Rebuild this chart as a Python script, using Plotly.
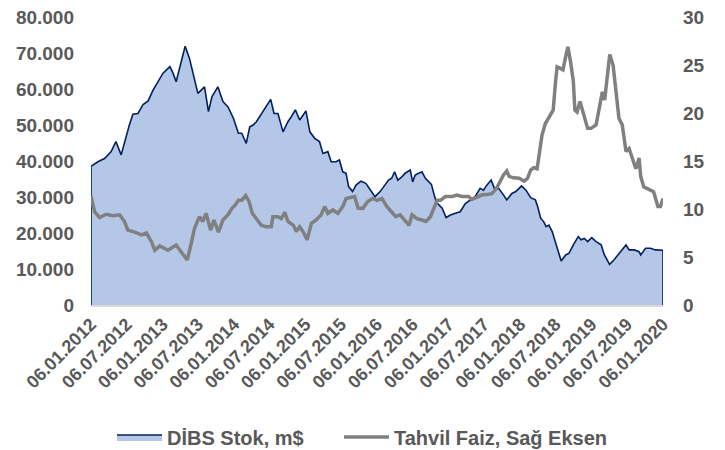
import plotly.graph_objects as go

# ---- data ----
dibs_dates = [
    "2012-01-06", "2012-02-10", "2012-03-15", "2012-04-18", "2012-05-12", "2012-06-08", "2012-06-25",
    "2012-07-20", "2012-08-07", "2012-09-02", "2012-09-28", "2012-10-24", "2012-11-18", "2012-12-14",
    "2013-01-08", "2013-02-12", "2013-02-28", "2013-03-16", "2013-04-03", "2013-05-01", "2013-05-23",
    "2013-06-18", "2013-07-05", "2013-08-08", "2013-08-28", "2013-09-15", "2013-10-15", "2013-11-10",
    "2013-12-06", "2014-01-03", "2014-01-28", "2014-02-14", "2014-03-09", "2014-03-27", "2014-04-13",
    "2014-04-30", "2014-05-17", "2014-06-11", "2014-06-28", "2014-07-12", "2014-07-29", "2014-08-18",
    "2014-09-13", "2014-10-08", "2014-10-25", "2014-11-15", "2014-12-07", "2014-12-24", "2015-01-08",
    "2015-01-28", "2015-02-22", "2015-03-18", "2015-04-05", "2015-04-30", "2015-05-17", "2015-06-11",
    "2015-06-28", "2015-07-15", "2015-08-01", "2015-08-14", "2015-09-03", "2015-09-21", "2015-10-16",
    "2015-11-10", "2015-11-27", "2015-12-17", "2015-12-27", "2016-01-22", "2016-02-17", "2016-03-05",
    "2016-03-21", "2016-04-05", "2016-04-21", "2016-05-12", "2016-05-29", "2016-06-12", "2016-06-24",
    "2016-07-06", "2016-07-19", "2016-08-06", "2016-08-23", "2016-09-09", "2016-09-27", "2016-10-10",
    "2016-10-22", "2016-11-03", "2016-11-17", "2016-12-04", "2016-12-24", "2017-01-15", "2017-02-09",
    "2017-03-06", "2017-04-01", "2017-04-26", "2017-05-21", "2017-06-16", "2017-07-03", "2017-07-20",
    "2017-08-11", "2017-08-28", "2017-09-18", "2017-10-13", "2017-10-30", "2017-11-25", "2017-12-15",
    "2018-01-01", "2018-01-13", "2018-02-05", "2018-03-01", "2018-03-25", "2018-04-06", "2018-04-21",
    "2018-05-07", "2018-05-19", "2018-06-02", "2018-06-19", "2018-07-06", "2018-07-23", "2018-08-04",
    "2018-08-27", "2018-09-13", "2018-10-05", "2018-10-30", "2018-11-13", "2018-11-30", "2018-12-17",
    "2019-01-07", "2019-01-29", "2019-02-24", "2019-03-11", "2019-04-08", "2019-04-30", "2019-05-26",
    "2019-07-01", "2019-07-17", "2019-08-12", "2019-09-06", "2019-09-14", "2019-10-09", "2019-11-03",
    "2019-11-28", "2019-12-30", "2020-01-06",
]
dibs_values = [
    38500, 39800, 40700, 42600, 45400, 41700, 45400,
    50000, 53000, 53200, 55700, 56700, 59700, 62000,
    64400, 66200, 64400, 62000, 65700, 71900, 68500,
    63000, 58800, 60600, 53700, 57900, 60600, 56500,
    55000, 51800, 47700, 47700, 44900, 49500, 50000,
    50900, 52300, 54200, 55600, 57100, 53200, 53200,
    48100, 50900, 52300, 54200, 51400, 52800, 53900,
    48100, 46300, 45400, 42100, 42600, 39800, 39800,
    40300, 37000, 36600, 32900, 31500, 33300, 34400,
    33800, 32400, 30600, 30100, 31500, 33300, 34700,
    35200, 37000, 34700, 35600, 36600, 37000, 37500,
    34200, 36100, 36600, 37000, 35200, 34200, 33500,
    31000, 28700, 27800, 26900, 24300, 25000, 25500,
    25900, 28200, 29200, 30100, 32400, 31900, 33300,
    34700, 32400, 32400, 30600, 29200, 31000, 31500,
    32400, 33100, 31900, 29800, 29200, 27300, 24100,
    23100, 21750, 22200, 20400, 17600, 14400, 12200,
    13900, 14400, 16700, 19000, 18100, 18500, 17600,
    18700, 17600, 16700, 14100, 11300, 12500, 14400,
    16700, 15300, 15300, 14800, 13900, 15750, 15750,
    15300, 15200, 15200,
]

faiz_dates = [
    "2012-01-06", "2012-01-25", "2012-02-19", "2012-03-23", "2012-04-27", "2012-05-31", "2012-06-25",
    "2012-07-12", "2012-08-16", "2012-09-20", "2012-10-15", "2012-11-10", "2012-11-27", "2012-12-22",
    "2013-02-02", "2013-03-16", "2013-04-10", "2013-05-12", "2013-05-30", "2013-06-18", "2013-07-13",
    "2013-07-30", "2013-08-16", "2013-09-08", "2013-09-25", "2013-10-18", "2013-11-10", "2013-12-06",
    "2013-12-26", "2014-01-11", "2014-01-28", "2014-02-14", "2014-03-06", "2014-03-23", "2014-04-09",
    "2014-04-30", "2014-05-25", "2014-06-19", "2014-07-15", "2014-07-23", "2014-08-18", "2014-09-04",
    "2014-09-22", "2014-10-08", "2014-11-05", "2014-11-20", "2014-12-07", "2014-12-24", "2015-01-14",
    "2015-02-05", "2015-03-01", "2015-03-27", "2015-04-14", "2015-04-30", "2015-05-26", "2015-06-20",
    "2015-07-15", "2015-08-01", "2015-08-27", "2015-09-14", "2015-10-01", "2015-10-26", "2015-11-21",
    "2015-12-15", "2016-01-06", "2016-01-31", "2016-02-26", "2016-03-21", "2016-04-11", "2016-05-03",
    "2016-05-29", "2016-06-18", "2016-07-03", "2016-07-28", "2016-08-23", "2016-09-12", "2016-10-05",
    "2016-10-22", "2016-11-08", "2016-11-25", "2016-12-20", "2017-01-24", "2017-02-18", "2017-03-15",
    "2017-04-17", "2017-05-04", "2017-05-29", "2017-06-24", "2017-07-20", "2017-08-14", "2017-09-08",
    "2017-09-25", "2017-10-13", "2017-10-30", "2017-11-11", "2017-12-03", "2018-01-01", "2018-01-27",
    "2018-02-13", "2018-03-01", "2018-03-17", "2018-04-03", "2018-04-17", "2018-04-28", "2018-05-15",
    "2018-06-10", "2018-06-24", "2018-07-06", "2018-07-14", "2018-07-31", "2018-08-13", "2018-08-27",
    "2018-09-07", "2018-09-21", "2018-10-05", "2018-10-13", "2018-10-24", "2018-11-08", "2018-11-20",
    "2018-12-01", "2018-12-17", "2019-01-03", "2019-01-29", "2019-02-19", "2019-03-02", "2019-03-14",
    "2019-03-27", "2019-04-09", "2019-04-26", "2019-05-08", "2019-05-26", "2019-06-12", "2019-07-01",
    "2019-07-17", "2019-08-03", "2019-08-20", "2019-09-06", "2019-09-14", "2019-09-30", "2019-10-26",
    "2019-11-19", "2019-12-11", "2019-12-24", "2020-01-06",
]
faiz_values = [
    11.3, 9.7, 9.1, 9.45, 9.3, 9.4, 8.7,
    7.8, 7.6, 7.3, 7.5, 6.6, 5.7, 6.15,
    5.7, 6.25, 5.55, 4.7, 6.25, 8.0, 9.2,
    8.7, 9.55, 7.8, 8.85, 7.6, 8.85, 9.4,
    10.07, 10.4, 10.9, 10.9, 11.4, 10.8, 9.55,
    9.0, 8.3, 8.15, 8.15, 9.2, 9.2, 9.0,
    9.65, 8.7, 8.3, 7.65, 8.15, 7.65, 6.8,
    8.5, 8.85, 9.4, 10.25, 9.55, 9.9, 9.55,
    10.25, 11.1, 11.2, 11.3, 10.1, 10.07, 10.8,
    11.1, 10.9, 11.1, 10.25, 9.7, 9.2, 9.4,
    8.85, 8.3, 9.4, 9.0, 8.85, 8.7, 9.2,
    10.07, 10.9, 10.9, 11.3, 11.3, 11.45, 11.3,
    11.3, 11.0, 11.2, 11.45, 11.5, 11.6, 12.15,
    12.85, 13.55, 13.95, 13.4, 13.25, 13.2, 12.9,
    13.2, 14.05, 14.3, 14.2, 16.3, 17.7, 18.9,
    19.8, 20.3, 23.25, 24.8, 24.65, 24.5, 25.9,
    26.9, 25.3, 23.3, 20.3, 20.1, 21.2, 20.3,
    19.4, 18.4, 18.4, 18.75, 21.0, 22.2, 21.35,
    23.6, 26.1, 25.0, 22.6, 19.45, 18.75, 16.0,
    16.3, 15.3, 14.2, 15.3, 13.4, 12.3, 12.0,
    11.8, 10.25, 10.25, 11.1,
]

tick_labels = [
    "06.01.2012", "06.07.2012", "06.01.2013", "06.07.2013", "06.01.2014", "06.07.2014",
    "06.01.2015", "06.07.2015", "06.01.2016", "06.07.2016", "06.01.2017", "06.07.2017",
    "06.01.2018", "06.07.2018", "06.01.2019", "06.07.2019", "06.01.2020",
]
left_ticks = [0, 10000, 20000, 30000, 40000, 50000, 60000, 70000, 80000]
right_ticks = [0, 5, 10, 15, 20, 25, 30]

series_names = ["DİBS Stok, m$", "Tahvil Faiz, Sağ Eksen"]

# ---- build ----
def to_iso(lbl):
    d, m, y = lbl.split(".")
    return f"{y}-{m}-{d}"

tick_vals = [to_iso(t) for t in tick_labels]

FONT = "Liberation Sans, Arial, sans-serif"
TXT = "#595959"
W, H = 717, 442   # page body adds an 8px offset

fig = go.Figure()

# area closed down to zero at both ends so its outline runs to the axis
fig.add_trace(go.Scatter(
    x=[dibs_dates[0]] + dibs_dates + [dibs_dates[-1]],
    y=[0] + dibs_values + [0],
    name=series_names[0],
    mode="lines",
    fill="tozeroy",
    fillcolor="#B4C7E7",
    line=dict(color="#002060", width=1.6),
    yaxis="y",
    legend="legend",
))

fig.add_trace(go.Scatter(
    x=faiz_dates,
    y=faiz_values,
    name=series_names[1],
    mode="lines",
    line=dict(color="#808080", width=3.5),
    yaxis="y2",
    legend="legend2",
))

legend_common = dict(
    orientation="h",
    xref="container", yref="container",
    xanchor="left",
    y=1 - 429 / H, yanchor="middle",
    font=dict(family=FONT, size=20, color=TXT, weight="bold"),
    itemwidth=45,
    bgcolor="rgba(0,0,0,0)",
)

fig.update_layout(
    width=W,
    height=H,
    margin=dict(l=83, r=62, t=9, b=145, autoexpand=False),
    paper_bgcolor="white",
    plot_bgcolor="white",
    separators=",.",
    font=dict(family=FONT, size=19, color=TXT),
    showlegend=True,
    legend=dict(legend_common, x=104 / W),
    legend2=dict(legend_common, x=331 / W),
    xaxis=dict(
        type="date",
        range=[tick_vals[0], tick_vals[-1]],
        tickmode="array",
        tickvals=tick_vals,
        ticktext=tick_labels,
        tickangle=-45,
        showgrid=False,
        zeroline=False,
        showline=True,
        linecolor="#D9D9D9",
        linewidth=1.5,
        ticks="",
        automargin=False,
        ticklabeloverflow="allow",
        tickfont=dict(family=FONT, size=18, color=TXT, weight="bold"),
    ),
    yaxis=dict(
        range=[0, 80000],
        tickmode="array",
        tickvals=left_ticks,
        tickformat=",.0f",
        showgrid=False,
        zeroline=False,
        showline=False,
        ticks="",
        automargin=False,
        ticklabeloverflow="allow",
        ticklabelstandoff=16,
        tickfont=dict(family=FONT, size=19, color=TXT, weight="bold"),
    ),
    yaxis2=dict(
        range=[0, 30],
        overlaying="y",
        side="right",
        tickmode="array",
        tickvals=right_ticks,
        showgrid=False,
        zeroline=False,
        showline=False,
        ticks="",
        automargin=False,
        ticklabeloverflow="allow",
        ticklabelstandoff=19,
        tickfont=dict(family=FONT, size=19, color=TXT, weight="bold"),
    ),
)

fig.write_html("out.html")
